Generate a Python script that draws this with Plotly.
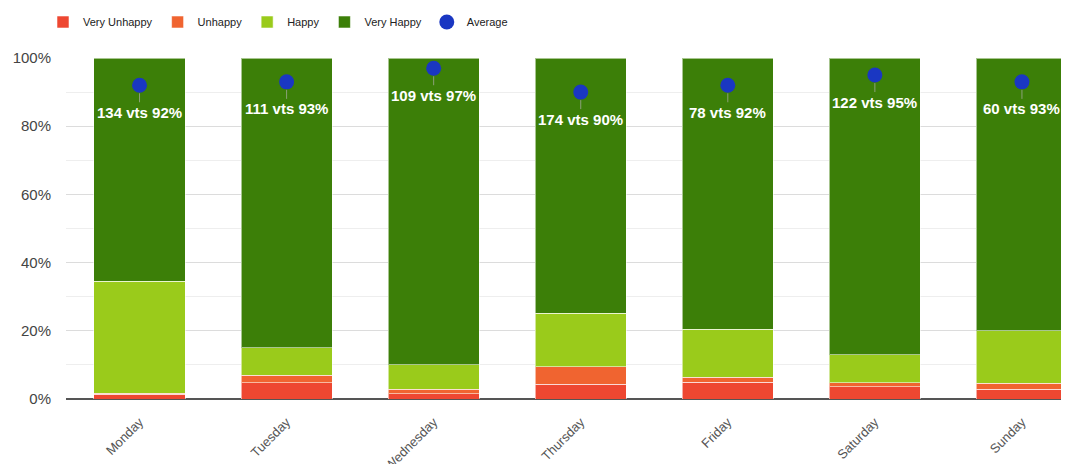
import plotly.graph_objects as go

days = ["Monday", "Tuesday", "Wednesday", "Thursday", "Friday", "Saturday", "Sunday"]
very_unhappy = [1.4, 4.8, 1.6, 4.3, 4.9, 3.6, 2.9]
unhappy = [0.3, 2.2, 1.2, 5.2, 1.5, 1.1, 1.7]
happy = [32.9, 8.0, 7.2, 15.7, 14.0, 8.3, 15.4]
very_happy = [65.4, 85.0, 90.0, 74.8, 79.6, 87.0, 80.0]
average = [92, 93, 97, 90, 92, 95, 93]
votes = [134, 111, 109, 174, 78, 122, 60]

series = [
    ("Very Unhappy", very_unhappy, "#EE4731"),
    ("Unhappy", unhappy, "#F06430"),
    ("Happy", happy, "#9ACB1B"),
    ("Very Happy", very_happy, "#3C7F08"),
]

fig = go.Figure()
for name, vals, col in series:
    fig.add_trace(go.Bar(
        x=days, y=vals, name=name,
        marker=dict(color=col, line=dict(color="rgba(255,255,255,0.55)", width=1)),
        hoverinfo="skip",
    ))

fig.add_trace(go.Scatter(
    x=days, y=average, name="Average", mode="markers",
    marker=dict(symbol="circle", size=15, color="#1A37C2", line=dict(width=0)),
))

for d, a, v in zip(days, average, votes):
    fig.add_annotation(
        x=d, y=a, xref="x", yref="y",
        text=f"<b>{v} vts {a}%</b>",
        showarrow=True, arrowhead=0, arrowwidth=1, arrowcolor="#8CA07A",
        ax=0, ay=27, standoff=8,
        font=dict(family="Liberation Sans, Arial, sans-serif", size=15, color="white"),
    )

fig.update_layout(
    barmode="stack",
    bargap=0.38,
    width=1069, height=464,
    margin=dict(l=58, r=8, t=50, b=73, autoexpand=False),
    plot_bgcolor="white",
    paper_bgcolor="white",
    font=dict(family="Liberation Sans, Arial, sans-serif", color="#444"),
    showlegend=True,
    legend=dict(
        orientation="h", xref="container", yref="container",
        x=35 / 1069, y=1 - 14 / 464, xanchor="left", yanchor="middle",
        font=dict(size=11, color="#222"),
        itemwidth=30, traceorder="normal",
    ),
    xaxis=dict(
        range=[-0.5, 6.32], tickangle=-45, showgrid=False, automargin=False,
        tickfont=dict(size=13, color="#555"), ticks="", fixedrange=True,
        ticklabelstandoff=12,
    ),
    yaxis=dict(
        range=[0, 100], tickvals=[0, 20, 40, 60, 80, 100],
        ticktext=["0%", "20%", "40%", "60%", "80%", "100%"],
        gridcolor="#dcdcdc", gridwidth=1, automargin=False,
        minor=dict(dtick=10, tick0=0, showgrid=True, gridcolor="#eeeeee"),
        zeroline=True, zerolinecolor="#555", zerolinewidth=1.5,
        tickfont=dict(size=15, color="#444"), ticklabelstandoff=14,
    ),
)

fig.write_html("out.html")
